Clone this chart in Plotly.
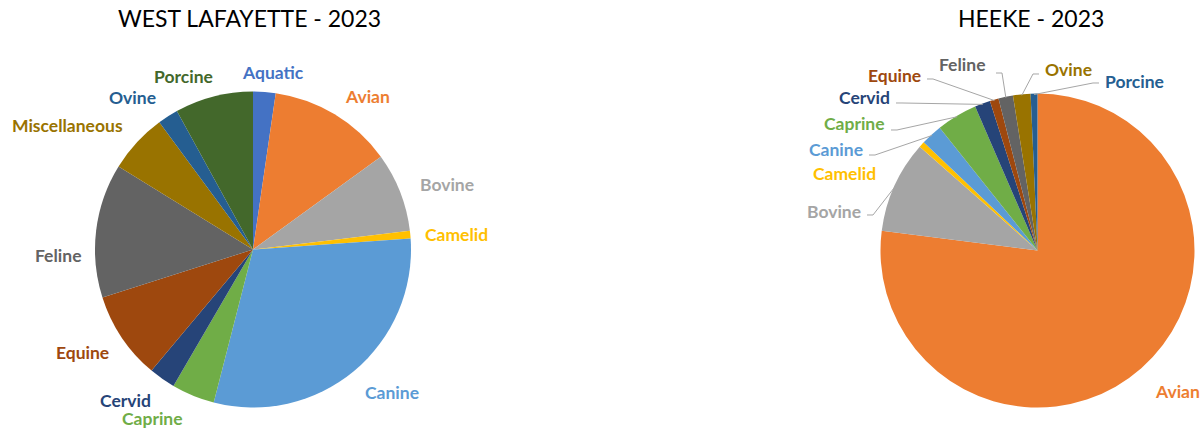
import math
import plotly.graph_objects as go

# ---------------- data ----------------
wl_categories = ["Aquatic", "Avian", "Bovine", "Camelid", "Canine", "Caprine",
                 "Cervid", "Equine", "Feline", "Miscellaneous", "Ovine", "Porcine"]
wl_values = [2.3, 12.7, 8.1, 0.8, 30.1, 4.4, 2.7, 9.0, 13.7, 6.1, 2.1, 8.0]

hk_categories = ["Avian", "Bovine", "Camelid", "Canine", "Caprine", "Cervid",
                 "Equine", "Feline", "Ovine", "Porcine"]
hk_values = [77.0, 9.5, 0.6, 2.2, 4.2, 1.6, 0.9, 1.5, 1.8, 0.7]

wl_title = "WEST LAFAYETTE - 2023"
hk_title = "HEEKE - 2023"

# ---------------- style ----------------
wl_colors = ["#4472C4", "#ED7D31", "#A5A5A5", "#FFC000", "#5B9BD5", "#70AD47",
             "#264478", "#9E480E", "#636363", "#997300", "#255E91", "#43682B"]
hk_colors = ["#ED7D31", "#A5A5A5", "#FFC000", "#5B9BD5", "#70AD47", "#264478",
             "#9E480E", "#636363", "#997300", "#255E91"]

W, H = 1200, 428
FONT = "Lato"
LABEL_SIZE = 17.5
TITLE_SIZE = 23
LEADER_COLOR = "#A6A6A6"

# pie geometry (pixels)
WL_C, WL_R = (253.0, 249.5), 158.0
HK_C, HK_R = (1037.5, 250.5), 157.0

# label placement (pixels)
wl_label_px = {
    "Aquatic": (273, 72), "Avian": (367, 96), "Bovine": (447, 184),
    "Camelid": (456, 234), "Canine": (392, 392), "Caprine": (152, 418),
    "Cervid": (125, 400), "Equine": (82, 352), "Feline": (58, 256),
    "Miscellaneous": (67, 126), "Ovine": (132, 98), "Porcine": (183, 76),
}
# (x edge, y center, anchor side, leader start offset)
hk_label_px = {
    "Avian": (1177, 391, "center", None),
    "Bovine": (863, 211, "right", (4, 4)),
    "Camelid": (878, 173, "right", None),
    "Canine": (865, 149, "right", (4, 6)),
    "Caprine": (887, 124, "right", (4, 6)),
    "Cervid": (892, 98, "right", (4, 5)),
    "Equine": (923, 75, "right", (4, 4)),
    "Feline": (987, 65, "right", (9, 8)),
    "Ovine": (1043, 69, "left", (-4, 5)),
    "Porcine": (1103, 82, "left", (-4, 1)),
}


def px_x(x):
    return x / W


def px_y(y):
    return 1 - y / H


def domain(c, r):
    return dict(x=[px_x(c[0] - r), px_x(c[0] + r)], y=[px_y(c[1] + r), px_y(c[1] - r)])


def mid_points(values, c, r):
    tot = float(sum(values))
    cum = 0.0
    pts = []
    for v in values:
        a = (cum + v / 2.0) / tot * 2 * math.pi
        pts.append((c[0] + r * math.sin(a), c[1] - r * math.cos(a)))
        cum += v
    return pts


fig = go.Figure()
fig.add_trace(go.Pie(
    labels=wl_categories, values=wl_values, sort=False, direction="clockwise",
    rotation=0, marker=dict(colors=wl_colors, line=dict(width=0)),
    textinfo="none", hoverinfo="label+value", showlegend=False,
    domain=domain(WL_C, WL_R),
))
fig.add_trace(go.Pie(
    labels=hk_categories, values=hk_values, sort=False, direction="clockwise",
    rotation=0, marker=dict(colors=hk_colors, line=dict(width=0)),
    textinfo="none", hoverinfo="label+value", showlegend=False,
    domain=domain(HK_C, HK_R),
))

annotations = []
shapes = []

annotations.append(dict(text=wl_title, x=px_x(249), y=px_y(18), xref="paper", yref="paper",
                        showarrow=False, xanchor="center", yanchor="middle",
                        font=dict(family=FONT, size=TITLE_SIZE, color="#000000")))
annotations.append(dict(text=hk_title, x=px_x(1031), y=px_y(18), xref="paper", yref="paper",
                        showarrow=False, xanchor="center", yanchor="middle",
                        font=dict(family=FONT, size=TITLE_SIZE, color="#000000")))

for cat, col in zip(wl_categories, wl_colors):
    x, y = wl_label_px[cat]
    annotations.append(dict(text="<b>%s</b>" % cat, x=px_x(x), y=px_y(y),
                            xref="paper", yref="paper", showarrow=False,
                            xanchor="center", yanchor="middle",
                            font=dict(family=FONT, size=LABEL_SIZE, color=col)))

hk_mids = mid_points(hk_values, HK_C, HK_R - 1)
for cat, col, mp in zip(hk_categories, hk_colors, hk_mids):
    x, y, side, lead = hk_label_px[cat]
    annotations.append(dict(text="<b>%s</b>" % cat, x=px_x(x), y=px_y(y),
                            xref="paper", yref="paper", showarrow=False,
                            xanchor=side, yanchor="middle",
                            font=dict(family=FONT, size=LABEL_SIZE, color=col)))
    if lead is not None:
        sx, sy = x + lead[0], y + lead[1]
        ex = sx + (6 if lead[0] > 0 else -6)
        path = "M %f,%f L %f,%f L %f,%f" % (px_x(sx), px_y(sy), px_x(ex), px_y(sy),
                                             px_x(mp[0]), px_y(mp[1]))
        shapes.append(dict(type="path", path=path, xref="paper", yref="paper",
                           line=dict(color=LEADER_COLOR, width=1)))

fig.update_layout(
    width=W, height=H, margin=dict(l=0, r=0, t=0, b=0),
    paper_bgcolor="#FFFFFF", plot_bgcolor="#FFFFFF",
    annotations=annotations, shapes=shapes,
)

fig.write_html(
    "out.html",
    config={"displayModeBar": False},
    post_script="document.body.style.margin='0';document.body.style.overflow='hidden';",
)
